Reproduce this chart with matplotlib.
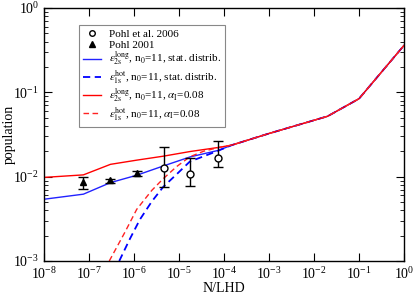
import numpy as np
import matplotlib
matplotlib.use("Agg")
import matplotlib.pyplot as plt
from matplotlib.lines import Line2D

plt.rcParams['font.family'] = ['Liberation Serif', 'DejaVu Serif']
plt.rcParams['mathtext.fontset'] = 'stix'

# shared high-density tail (all four model curves coincide)
tail_x = [1.5e-4, 1e-3, 2e-2, 1e-1, 1.0]
tail_y = [0.0237, 0.0325, 0.052, 0.084, 0.36]

# eps_2s long, n0=11, stat. distrib. (blue solid)
blue_solid_x = [1e-8, 7.5e-8, 3e-7, 1.15e-6, 4.5e-6, 1.8e-5, 7.5e-5]
blue_solid_y = [0.0054, 0.0062, 0.0085, 0.0104, 0.0134, 0.0172, 0.0205]

# eps_1s hot, n0=11, stat. distrib. (blue dashed)
blue_dash_x = [4.7e-7, 7.9e-7, 1.35e-6, 2.5e-6, 4.5e-6, 8.9e-6, 1.74e-5, 3.5e-5, 6.9e-5]
blue_dash_y = [0.001, 0.00178, 0.0031, 0.0051, 0.0076, 0.0107, 0.0151, 0.0174, 0.0200]

# eps_2s long, n0=11, alpha=0.08 (red solid)
red_solid_x = [1e-8, 7.5e-8, 3e-7, 1.15e-6, 4.5e-6, 1.8e-5, 7.5e-5]
red_solid_y = [0.0098, 0.0105, 0.014, 0.0157, 0.0175, 0.0199, 0.0222]

# eps_1s hot, n0=11, alpha=0.08 (red dashed)
red_dash_x = [2.82e-7, 6.3e-7, 1.15e-6, 2.5e-6, 4.5e-6, 8.9e-6, 1.74e-5, 3.5e-5, 6.9e-5]
red_dash_y = [0.001, 0.0022, 0.0041, 0.0069, 0.0095, 0.0132, 0.0172, 0.020, 0.0219]

# Pohl et al. 2006 (open circles)
pohl06_x = [4.6e-6, 1.8e-5, 7.4e-5]
pohl06_y = [0.0126, 0.0107, 0.0165]
pohl06_lo = [0.0076, 0.0077, 0.0129]
pohl06_hi = [0.0222, 0.0168, 0.0264]

# Pohl 2001 (filled triangles)
pohl01_x = [7.4e-8, 2.9e-7, 1.15e-6]
pohl01_y = [0.0086, 0.0091, 0.011]
pohl01_lo = [0.0071, 0.0084, 0.0103]
pohl01_hi = [0.0098, 0.0094, 0.0117]

fig = plt.figure(figsize=(4.15, 2.96), dpi=100)
ax = fig.add_axes([44/415, 35/296, 360/415, 253/296])

def err(y, lo, hi):
    y = np.array(y); return [y - np.array(lo), np.array(hi) - y]

ax.errorbar(pohl06_x, pohl06_y, yerr=err(pohl06_y, pohl06_lo, pohl06_hi),
            fmt='o', mfc='white', mec='black', ms=5, mew=1, ecolor='black',
            elinewidth=1, capsize=3.5, capthick=1, zorder=5)
ax.errorbar(pohl01_x, pohl01_y, yerr=err(pohl01_y, pohl01_lo, pohl01_hi),
            fmt='^', mfc='black', mec='black', ms=4.5, ecolor='black',
            elinewidth=1, capsize=3.5, capthick=1, zorder=5)

l1, = ax.plot(blue_solid_x + tail_x, blue_solid_y + tail_y, color='#2222ff', lw=1)
l2, = ax.plot(blue_dash_x + tail_x, blue_dash_y + tail_y, color='#0000ff', lw=1.3,
              ls=(0, (4, 2.5)))
l3, = ax.plot(red_solid_x + tail_x, red_solid_y + tail_y, color='#ff0000', lw=1)
l4, = ax.plot(red_dash_x + tail_x, red_dash_y + tail_y, color='#ff2222', lw=1,
              ls=(0, (4, 2.5)))

ax.set_xscale('log')
ax.set_yscale('log')
ax.set_xlim(1e-8, 1)
ax.set_ylim(1e-3, 1)
ax.set_xticks([10.0**k for k in range(-8, 1)])
ax.set_yticks([10.0**k for k in range(-3, 1)])
ax.tick_params(which='both', direction='in', top=True, right=True, labelsize=10)
ax.tick_params(which='major', length=6, width=0.8)
ax.tick_params(which='minor', length=3, width=0.6)
for s in ax.spines.values():
    s.set_linewidth(1)
ax.set_xlabel('N/LHD', fontsize=10, labelpad=0)
ax.set_ylabel('population', fontsize=10)
ax.yaxis.set_label_coords(-0.078, 0.5)

labels = ['Pohl et al. 2006', 'Pohl 2001',
          r'$\varepsilon_{\mathrm{2s}}^{\mathrm{long}}$, n$_0$=11, stat. distrib.',
          r'$\varepsilon_{\mathrm{1s}}^{\mathrm{hot}}$, n$_0$=11, stat. distrib.',
          r'$\varepsilon_{\mathrm{2s}}^{\mathrm{long}}$, n$_0$=11, $\alpha_{\mathrm{I}}$=0.08',
          r'$\varepsilon_{\mathrm{1s}}^{\mathrm{hot}}$, n$_0$=11, $\alpha_{\mathrm{I}}$=0.08']
hc = Line2D([], [], marker='o', ls='none', mfc='white', mec='black', ms=4, mew=1)
ht = Line2D([], [], marker='^', ls='none', mfc='black', mec='black', ms=4)
leg = ax.legend([hc, ht, l1, l2, l3, l4], labels, loc='upper left',
                bbox_to_anchor=(0.097, 0.933), borderaxespad=0, fontsize=8,
                fancybox=False, edgecolor='#888888', framealpha=1,
                handlelength=1.6, handletextpad=0.7, labelspacing=0.05,
                borderpad=0.4)
leg.get_frame().set_linewidth(0.8)

fig.savefig('out.png', dpi=100)
